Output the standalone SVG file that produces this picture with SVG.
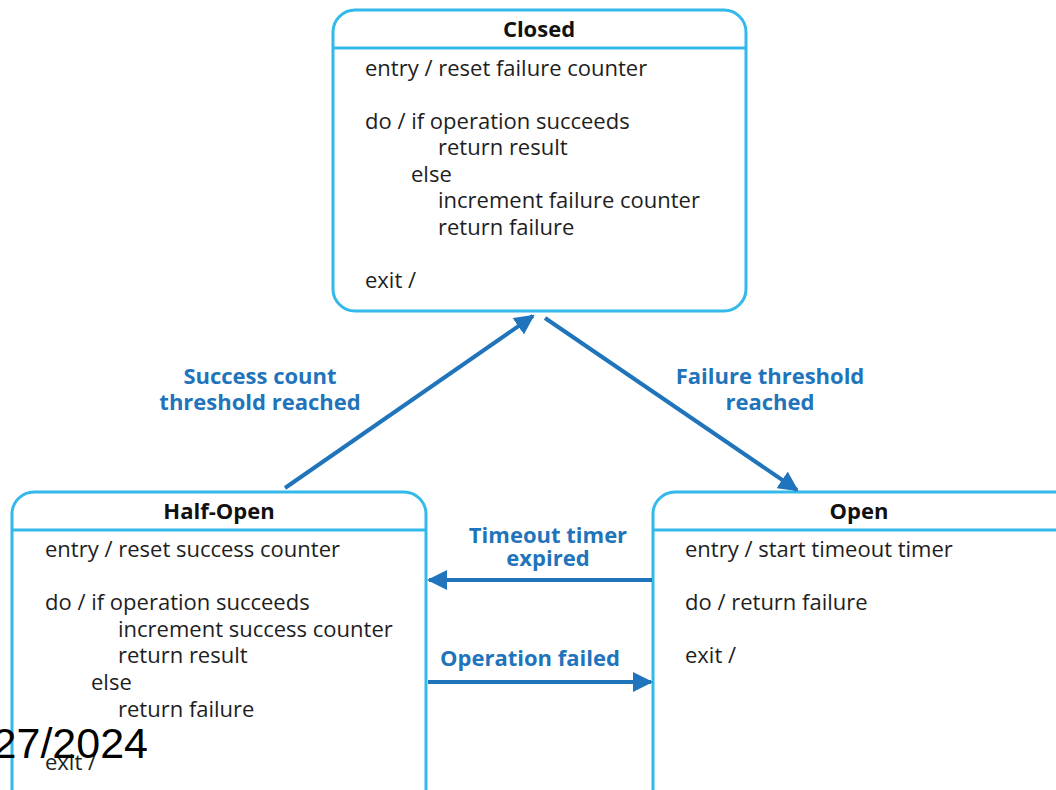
<svg xmlns="http://www.w3.org/2000/svg" width="1056" height="790" viewBox="0 0 1056 790">
<style>
.box{fill:#fff;stroke:#33b9ea;stroke-width:3}
.div{stroke:#33b9ea;stroke-width:3}
.t{font-family:"Open Sans","Noto Sans",sans-serif;font-size:22px;fill:#1e1e1e}
.h{font-family:"Open Sans","Noto Sans",sans-serif;font-size:22px;font-weight:bold;fill:#111;text-anchor:middle}
.lbl{font-family:"Open Sans","Noto Sans",sans-serif;font-size:22px;font-weight:bold;fill:#1f74bb;text-anchor:middle}
.arr{stroke:#1f74bb;stroke-width:4;fill:none;marker-end:url(#ah)}
</style>
<defs>
<marker id="ah" viewBox="0 0 10 10" refX="9" refY="5" markerWidth="5" markerHeight="5" orient="auto" markerUnits="strokeWidth">
<path d="M0,0 L10,5 L0,10 Z" fill="#1f74bb"/>
</marker>
</defs>
<rect width="1056" height="790" fill="#fff"/>
<g id="closed">
<rect class="box" x="333" y="10" width="413" height="301" rx="22"/>
<line class="div" x1="333" y1="48" x2="746" y2="48"/>
<text class="h" x="539" y="37">Closed</text>
<text class="t" x="365" y="76">entry / reset failure counter</text>
<text class="t" x="365" y="129">do / if operation succeeds</text>
<text class="t" x="438" y="155">return result</text>
<text class="t" x="411" y="182">else</text>
<text class="t" x="438" y="208">increment failure counter</text>
<text class="t" x="438" y="235">return failure</text>
<text class="t" x="365" y="288">exit /</text>
</g>
<g id="halfopen">
<rect class="box" x="12" y="492" width="414" height="320" rx="22"/>
<line class="div" x1="12" y1="530" x2="426" y2="530"/>
<text class="h" x="219" y="519">Half-Open</text>
<text class="t" x="45" y="557">entry / reset success counter</text>
<text class="t" x="45" y="610">do / if operation succeeds</text>
<text class="t" x="118" y="637">increment success counter</text>
<text class="t" x="118" y="663">return result</text>
<text class="t" x="91" y="690">else</text>
<text class="t" x="118" y="717">return failure</text>
<text class="t" x="45" y="770">exit /</text>
</g>
<g id="open">
<rect class="box" x="653" y="492" width="430" height="320" rx="22"/>
<line class="div" x1="653" y1="530" x2="1060" y2="530"/>
<text class="h" x="859" y="519">Open</text>
<text class="t" x="685" y="557">entry / start timeout timer</text>
<text class="t" x="685" y="610">do / return failure</text>
<text class="t" x="685" y="663">exit /</text>
</g>
<g id="connectors">
<line class="arr" x1="285" y1="488" x2="533" y2="316"/>
<line class="arr" x1="545" y1="318" x2="797" y2="490"/>
<line class="arr" x1="652" y1="580" x2="429" y2="580"/>
<line class="arr" x1="428" y1="682" x2="651" y2="682"/>
<text class="lbl" x="260" y="384">Success count</text>
<text class="lbl" x="260" y="410">threshold reached</text>
<text class="lbl" x="770" y="384">Failure threshold</text>
<text class="lbl" x="770" y="410">reached</text>
<text class="lbl" x="548" y="543">Timeout timer</text>
<text class="lbl" x="548" y="566">expired</text>
<text class="lbl" x="530" y="666">Operation failed</text>
</g>
<text x="148" y="758" text-anchor="end" font-family="Liberation Sans, sans-serif" font-size="43" fill="#000">27/2024</text>
</svg>
